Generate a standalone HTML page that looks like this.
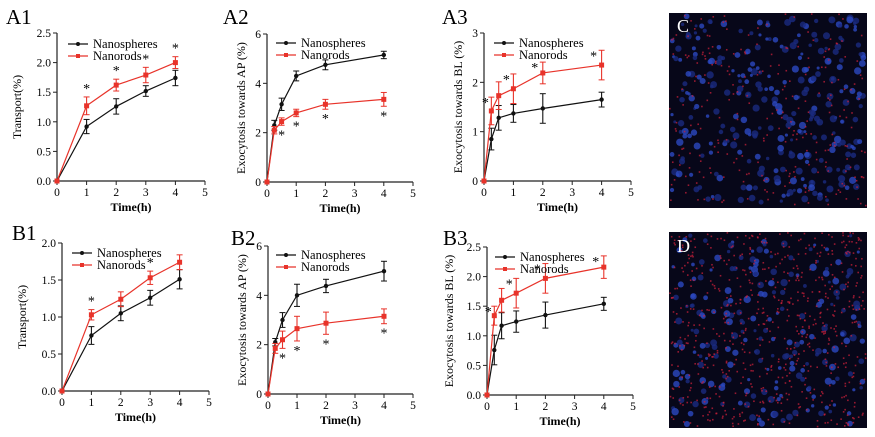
<!DOCTYPE html>
<html><head><meta charset="utf-8"><style>
body{margin:0;background:#fff;width:875px;height:437px;overflow:hidden}
svg{display:block;font-family:"Liberation Serif",serif}
</style></head><body>
<svg id="fig" width="875" height="437">
<rect x="669" y="13" width="198" height="195" fill="#070719"/>
<rect x="669" y="232" width="198" height="196" fill="#070719"/>
<g id="dotsC"></g>
<g id="dotsD"></g>
<text x="677" y="32" fill="#fff" font-size="18">C</text>
<text x="677" y="252" fill="#fff" font-size="18">D</text>
</svg>
<script>
const tX=[0,1,2,3,4];
const eX=[0,0.25,0.5,1,2,4];
const a1Sph=[0,0.92,1.26,1.52,1.74], a1SphErr=[0,0.12,0.13,0.09,0.13];
const a1Rod=[0,1.27,1.62,1.79,2.0], a1RodErr=[0,0.15,0.1,0.13,0.1];
const a2Sph=[0,2.3,3.15,4.3,4.75,5.15], a2SphErr=[0,0.2,0.25,0.2,0.2,0.15];
const a2Rod=[0,2.1,2.45,2.8,3.15,3.35], a2RodErr=[0,0.15,0.15,0.15,0.2,0.28];
const a3Sph=[0,0.85,1.28,1.37,1.47,1.65], a3SphErr=[0,0.22,0.25,0.18,0.3,0.15];
const a3Rod=[0,1.42,1.73,1.87,2.19,2.35], a3RodErr=[0,0.28,0.28,0.3,0.22,0.3];
const b1Sph=[0,0.75,1.05,1.26,1.51], b1SphErr=[0,0.12,0.1,0.1,0.13];
const b1Rod=[0,1.03,1.24,1.53,1.74], b1RodErr=[0,0.07,0.1,0.09,0.1];
const b2Sph=[0,2.1,3.0,4.0,4.38,4.98], b2SphErr=[0,0.15,0.3,0.45,0.27,0.4];
const b2Rod=[0,1.85,2.2,2.65,2.87,3.15], b2RodErr=[0,0.2,0.35,0.5,0.45,0.3];
const b3Sph=[0,0.76,1.17,1.24,1.35,1.54], b3SphErr=[0,0.25,0.22,0.18,0.22,0.11];
const b3Rod=[0,1.34,1.6,1.72,1.97,2.16], b3RodErr=[0,0.16,0.2,0.25,0.25,0.19];
const ticks25=["0.0","0.5","1.0","1.5","2.0","2.5"], ticks6=["0","2","4","6"], ticks3=["0","1","2","3"], ticks20=["0.0","0.5","1.0","1.5","2.0"];
const xTicks=["0","1","2","3","4","5"];

const NS="http://www.w3.org/2000/svg", svg=document.getElementById('fig');
function mk(tag,at,parent){const e=document.createElementNS(NS,tag);for(const k in at)e.setAttribute(k,at[k]);(parent||svg).appendChild(e);return e;}
function chart(c){
  const g=mk('g',{});
  
  
  const sx=v=>c.x0+(c.x1-c.x0)*v/5, sy=v=>c.y0-(c.y0-c.y1)*v/c.ymax;
  const lbl=mk('text',{x:c.lx,y:c.ly,'font-size':21},g);lbl.textContent=c.label;
  
  mk('line',{x1:c.x0,y1:c.y0,x2:c.x1,y2:c.y0,stroke:'#222','stroke-width':1.2},g);
  mk('line',{x1:c.x0,y1:c.y0,x2:c.x0,y2:c.y1,stroke:'#222','stroke-width':1.2},g);
  xTicks.forEach((t,i)=>{const x=sx(+t);mk('line',{x1:x,y1:c.y0,x2:x,y2:c.y0+4,stroke:'#222'},g);
    const tt=mk('text',{x:x,y:c.y0+15,'font-size':11.5,'text-anchor':'middle'},g);tt.textContent=t;
    });
  c.yt.forEach(t=>{const y=sy(+t);mk('line',{x1:c.x0-4,y1:y,x2:c.x0,y2:y,stroke:'#222'},g);
    const tt=mk('text',{x:c.x0-6,y:y+4,'font-size':11.5,'text-anchor':'end'},g);tt.textContent=t;
    });
  const xt=mk('text',{x:(c.x0+c.x1)/2,y:c.y0+30,'font-size':12,'font-weight':'bold','text-anchor':'middle'},g);xt.textContent='Time(h)';
  
  const yx=c.x0-c.yoff, ym=(c.y0+c.y1)/2;
  const yt=mk('text',{x:yx,y:ym,'font-size':12,'text-anchor':'middle',transform:`rotate(-90 ${yx} ${ym})`},g);yt.textContent=c.ytitle;
  
  [[c.sph,c.sphE,'#111','circle','nanospheres-series'],[c.rod,c.rodE,'#e8332a','rect','nanorods-series']].forEach(([d,e,col,sh,nm])=>{
    const s=mk('g',{},g);
    mk('polyline',{points:c.xs.map((x,i)=>sx(x)+','+sy(d[i])).join(' '),fill:'none',stroke:col,'stroke-width':1.2},s);
    c.xs.forEach((x,i)=>{const px=sx(x),py=sy(d[i]);
      if(e[i]>0){const t=sy(d[i]+e[i]),b=sy(d[i]-e[i]);
        mk('line',{x1:px,y1:t,x2:px,y2:b,stroke:col,'stroke-width':1.1},s);
        mk('line',{x1:px-3,y1:t,x2:px+3,y2:t,stroke:col},s);mk('line',{x1:px-3,y1:b,x2:px+3,y2:b,stroke:col},s);}
      const m=sh=='circle'?mk('circle',{cx:px,cy:py,r:2.2,fill:col},s):mk('rect',{x:px-2.5,y:py-2.5,width:5,height:5,fill:col},s);
      });
  });
  // star: [x, mode('top'|'bottom'), dy, dx]
  c.stars.forEach(([xv,mode,dy,dx])=>{const i=c.xs.indexOf(xv);
    const base=mode=='bottom'?sy(c.rod[i]-c.rodE[i]):sy(c.rod[i]+c.rodE[i]);
    const st=mk('text',{x:sx(xv)+(dx||0),y:base+dy,'font-size':14,'text-anchor':'middle'},g);st.textContent='*';
    });
  const lg=mk('g',{},g);
  [['Nanospheres','#111','circle'],['Nanorods','#e8332a','rect']].forEach(([n,col,sh],k)=>{
    const y=c.y1+c.lgy+k*12, lx=c.x0+c.lgx;
    mk('line',{x1:lx,y1:y,x2:lx+20,y2:y,stroke:col,'stroke-width':1.2},lg);
    sh=='circle'?mk('circle',{cx:lx+10,cy:y,r:2,fill:col},lg):mk('rect',{x:lx+8,y:y-2,width:4,height:4,fill:col},lg);
    const t=mk('text',{x:lx+25,y:y+4,'font-size':12.5},lg);t.textContent=n;
    });
  return g;
}
chart({name:'chart-a1',label:'A1',lx:6,ly:24,x0:57,x1:205,y0:181,y1:33,ymax:2.5,yt:ticks25,ytitle:'Transport(%)',yoff:36,xs:tX,sph:a1Sph,sphE:a1SphErr,rod:a1Rod,rodE:a1RodErr,stars:[[1,'top',-4],[2,'top',-4],[3,'top',-4],[4,'top',-4]],lgx:11,lgy:11});
chart({name:'chart-a2',label:'A2',lx:223,ly:24,x0:267,x1:413,y0:182,y1:34,ymax:6,yt:ticks6,ytitle:'Exocytosis towards AP (%)',yoff:22,xs:eX,sph:a2Sph,sphE:a2SphErr,rod:a2Rod,rodE:a2RodErr,stars:[[0.5,'bottom',14],[1,'bottom',14],[2,'bottom',14],[4,'bottom',14]],lgx:9,lgy:9});
chart({name:'chart-a3',label:'A3',lx:442,ly:24,x0:484,x1:631,y0:181,y1:33,ymax:3,yt:ticks3,ytitle:'Exocytosis towards BL (%)',yoff:22,xs:eX,sph:a3Sph,sphE:a3SphErr,rod:a3Rod,rodE:a3RodErr,stars:[[0.25,'top',10,-6],[1,'top',10,-7],[2,'top',10,-8],[4,'top',10,-8]],lgx:10,lgy:10});
chart({name:'chart-b1',label:'B1',lx:12,ly:240,x0:62,x1:209,y0:391,y1:243,ymax:2,yt:ticks20,ytitle:'Transport(%)',yoff:36,xs:tX,sph:b1Sph,sphE:b1SphErr,rod:b1Rod,rodE:b1RodErr,stars:[[1,'top',-4],[3,'top',-4]],lgx:10,lgy:10});
chart({name:'chart-b2',label:'B2',lx:231,ly:245,x0:268,x1:413,y0:394,y1:246,ymax:6,yt:ticks6,ytitle:'Exocytosis towards AP (%)',yoff:22,xs:eX,sph:b2Sph,sphE:b2SphErr,rod:b2Rod,rodE:b2RodErr,stars:[[0.5,'bottom',14],[1,'bottom',14],[2,'bottom',14],[4,'bottom',14]],lgx:8,lgy:9});
chart({name:'chart-b3',label:'B3',lx:443,ly:245,x0:487,x1:633,y0:395,y1:247,ymax:2.5,yt:ticks25,ytitle:'Exocytosis towards BL (%)',yoff:34,xs:eX,sph:b3Sph,sphE:b3SphErr,rod:b3Rod,rodE:b3RodErr,stars:[[0.25,'top',10,-6],[1,'top',10,-7],[2,'top',10,-8],[4,'top',10,-8]],lgx:8,lgy:10});
// micrograph decoration (seeded pseudo-random texture)
let seed=7;function rnd(){seed=(seed*16807)%2147483647;return seed/2147483647;}
function dots(id,x,y,w,h,nb,nr){const g=document.getElementById(id);
  for(let i=0;i<nb;i++)mk('circle',{cx:x+3+rnd()*(w-6),cy:y+3+rnd()*(h-6),r:1.5+rnd()*2.2,fill:rnd()<0.5?'#2c48c0':'#1a2a80',opacity:0.8},g);
  for(let i=0;i<nr;i++)mk('rect',{x:x+rnd()*(w-2),y:y+rnd()*(h-2),width:1.6,height:1.6,fill:'#c8203a',opacity:0.75},g);}
dots('dotsC',669,13,198,195,300,260);
dots('dotsD',669,232,198,196,220,650);
</script>
</body></html>
